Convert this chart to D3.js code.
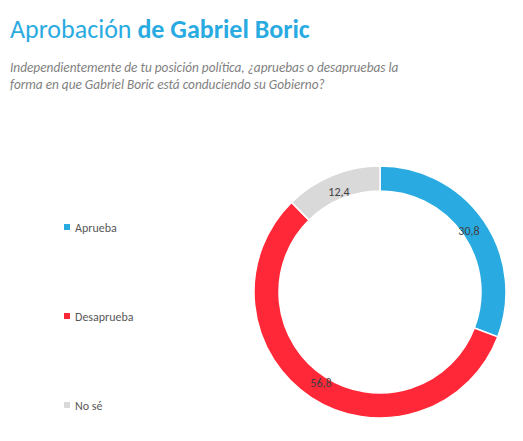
<!DOCTYPE html><html><head><meta charset="utf-8"><script src="https://cdn.jsdelivr.net/npm/d3@7"></script>
<style>body{margin:0;background:#fff;font-family:Calibri,"Open Sans",sans-serif}</style></head><body>
<svg id="c" width="523" height="441"></svg>
<script>
const categories=["Aprueba","Desaprueba","No sé"];
const values=[30.8,56.8,12.4];
const colors=["#29abe2","#ff2838","#d9d9d9"];
const svg=d3.select("#c");
const t=svg.append("text").attr("x",10).attr("y",38).attr("font-size",26).attr("fill","#29abe2");
t.append("tspan").text("Aprobación ");
t.append("tspan").attr("font-weight","bold").text("de Gabriel Boric");
["Independientemente de tu posición política, ¿apruebas o desapruebas la","forma en que Gabriel Boric está conduciendo su Gobierno?"].forEach((s,i)=>
svg.append("text").attr("x",10).attr("y",72+i*17).attr("font-size",13.3).attr("font-style","italic").attr("fill","#808080").attr("textLength",null).text(s));
const ly=d3.scalePoint().domain(categories).range([228,406]);
categories.forEach((c,i)=>{
 svg.append("rect").attr("x",64).attr("y",ly(c)-4).attr("width",6).attr("height",6).attr("fill",colors[i]);
 svg.append("text").attr("x",75).attr("y",ly(c)+4).attr("font-size",12).attr("fill","#595959").text(c);
});
const g=svg.append("g").attr("transform","translate(380,292)");
const pie=d3.pie().sort(null)(values);
const arc=d3.arc().innerRadius(101).outerRadius(126);
const larc=d3.arc().innerRadius(108).outerRadius(108);
g.selectAll("path").data(pie).join("path").attr("d",arc).attr("fill",(d,i)=>colors[i]).attr("stroke","#fff").attr("stroke-width",1.5);
g.selectAll("text.l").data(pie).join("text").attr("class","l").attr("transform",d=>`translate(${larc.centroid(d)})`)
 .attr("text-anchor","middle").attr("dy","0.35em").attr("font-size",12).attr("fill","#404040").text(d=>String(d.data).replace(".",","));
</script></body></html>
